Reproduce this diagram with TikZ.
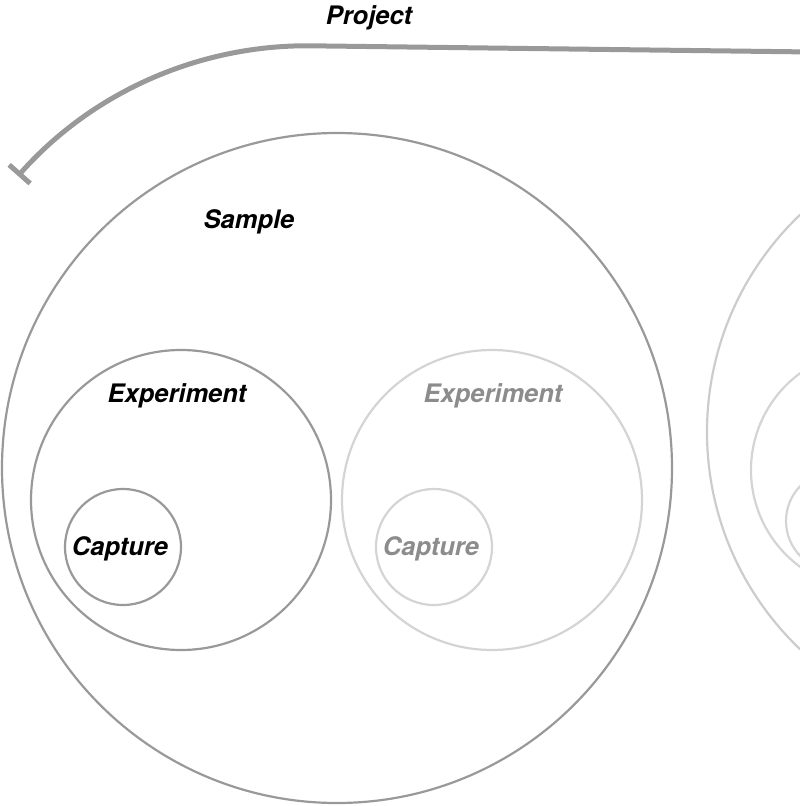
\documentclass[tikz,border=0pt]{standalone}
\usepackage{fontspec}
\setmainfont{TeX Gyre Heros}
\usetikzlibrary{arrows.meta}
\definecolor{midgray}{HTML}{999999}
\definecolor{lightgray}{HTML}{D4D4D4}
\definecolor{palegray}{HTML}{CCCCCC}
\definecolor{labgray}{HTML}{8C8C8C}
\tikzset{
  ring/.style={circle, draw=midgray, line width=2.2pt, inner sep=0pt, minimum size=#1},
  faintring/.style={circle, draw=lightgray, line width=2.2pt, inner sep=0pt, minimum size=#1},
  paleRing/.style={circle, draw=palegray, line width=2.2pt, inner sep=0pt, minimum size=#1},
  lab/.style={font=\fontsize{25.5}{29}\selectfont\bfseries\itshape, text=black, inner sep=0pt},
  faintlab/.style={lab, text=labgray},
  projline/.style={draw=midgray, line width=5pt}
}
\begin{document}
\begin{tikzpicture}[x=1pt,y=-1pt]
\useasboundingbox (0,0) rectangle (800,806);
\clip (0,0) rectangle (800,806);
% project bracket
\coordinate (pEnd) at (18,176);
\coordinate (pRight) at (812,52);
\draw[projline, {Bar[width=28pt]}-] (pEnd) arc[start angle=221.5, end angle=270, radius=386] -- (pRight);
\node[lab] (project) at (369,18) {Project};
% first sample
\node[ring=670pt] (sample1) at (337,468) {};
\node[lab] (sampleLab) at (249,222) {Sample};
\node[ring=300pt] (exp1) at (181,500) {};
\node[lab] (exp1Lab) at (177,396) {Experiment};
\node[ring=116pt] (cap1) at (123,547) {};
\node[lab] (cap1Lab) at (120,549) {Capture};
\node[faintring=300pt] (exp2) at (492,500) {};
\node[faintlab] (exp2Lab) at (493,396) {Experiment};
\node[faintring=116pt] (cap2) at (434,547) {};
\node[faintlab] (cap2Lab) at (431,549) {Capture};
% second sample (partly visible)
\node[paleRing=600pt] (sample2) at (1007,432) {};
\node[faintring=240pt] (exp3) at (871,470) {};
\node[faintring=100pt] (cap3) at (836,521) {};
\end{tikzpicture}
\end{document}
